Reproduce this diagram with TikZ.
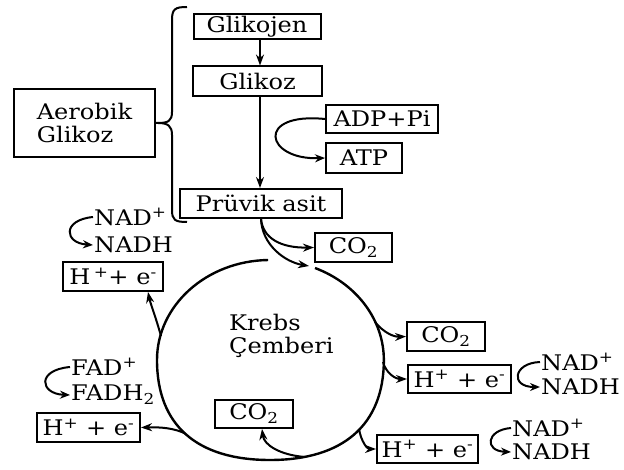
\documentclass[tikz,border=0pt]{standalone}
\usepackage{fontspec}
\setmainfont{DejaVu Serif}[FakeStretch=1.12]
\usetikzlibrary{arrows.meta}
\newcommand\dgfs{\fontsize{21.5}{23}\selectfont}
\begin{document}
\begin{tikzpicture}[x=1pt,y=-1pt,
  lw/.style={line width=2pt},
  box/.style={draw,lw,inner sep=0pt,font=\dgfs},
  lbl/.style={inner sep=1pt,anchor=west,font=\dgfs},
  arr/.style={lw,-{Stealth[length=11pt,width=8pt]}},
  curv/.style={lw,-{Stealth[length=10pt,width=8pt]}}]
\useasboundingbox[fill=white] (0,0) rectangle (624,470);
% boxes
\node[box,minimum width=127pt,minimum height=25pt] (glikojen) at (257,26.5) {Glikojen};
\node[box,minimum width=129pt,minimum height=30pt] (glikoz) at (257.5,81.5) {Glikoz};
\node[box,minimum width=162pt,minimum height=29pt] (pruvik) at (261,203.5) {Prüvik asit};
\node[box,minimum width=112pt,minimum height=28pt] (adp) at (382,119) {ADP+Pi};
\node[box,minimum width=76pt,minimum height=30pt] (atp) at (364,158) {ATP};
\node[box,minimum width=141pt,minimum height=68pt,align=left] (aerobik) at (84.5,123) {Aerobik\\Glikoz};
\node[box,minimum width=77pt,minimum height=29pt] (co2a) at (353.5,247.5) {CO\textsubscript{2}};
\node[box,minimum width=78pt,minimum height=29pt] (co2b) at (446,336.5) {CO\textsubscript{2}};
\node[box,minimum width=103pt,minimum height=28pt] (hb) at (459.5,379) {H\textsuperscript{+} + e\textsuperscript{-}};
\node[box,minimum width=101pt,minimum height=28pt] (hc) at (427.5,449) {H\textsuperscript{+} + e\textsuperscript{-}};
\node[box,minimum width=78pt,minimum height=28pt] (co2c) at (254,414) {CO\textsubscript{2}};
\node[box,minimum width=103pt,minimum height=29pt] (hd) at (88.5,427.5) {H\textsuperscript{+} + e\textsuperscript{-}};
\node[box,minimum width=100pt,minimum height=29pt] (ha) at (113,276.5) {H\,\textsuperscript{+}+ e\textsuperscript{-}};
% labels
\node[lbl] (nad1) at (93,217) {NAD\textsuperscript{+}};
\node[lbl] (nadh1) at (93,245) {NADH};
\node[lbl] (fad) at (70,367) {FAD\textsuperscript{+}};
\node[lbl] (fadh) at (70,395) {FADH\textsubscript{2}};
\node[lbl] (nad2) at (540,362) {NAD\textsuperscript{+}};
\node[lbl] (nadh2) at (540,387) {NADH};
\node[lbl] (nad3) at (511,428) {NAD\textsuperscript{+}};
\node[lbl] (nadh3) at (511,452) {NADH};
\node[lbl,align=left] (krebs) at (228,336) {Krebs\\Çemberi};
% brace
\draw[lw] (187,7) .. controls (175,7) and (172,9) .. (172,20) -- (172,112)
  .. controls (172,121) and (168,123) .. (158,123) -- (aerobik.east);
\draw[lw] (158,123) .. controls (168,123) and (172,126) .. (172,135) -- (172,210)
  .. controls (172,220) and (175,222) .. (187,222);
% main flow
\draw[arr] (glikojen.south -| 260,0) -- (glikoz.north -| 260,0);
\draw[arr] (glikoz.south -| 260,0) -- (pruvik.north -| 260,0);
\draw[curv] (adp.west) .. controls (255,112) and (265,160) .. (atp.west);
\coordinate (kin) at (309,266);
\draw[arr] (pruvik.south) .. controls (263,238) and (280,248) .. (co2a.west);
\draw[arr] (pruvik.south) .. controls (262,245) and (285,262) .. (kin);
% Krebs cycle
\draw[line width=2.4pt] (315,268) arc[start angle=-67,end angle=0,x radius=113,y radius=100]
  .. controls (383.8,425) and (343,460) .. (270,460)
  .. controls (196.5,460) and (157,425) .. (157,360)
  arc[start angle=180,end angle=269,x radius=113,y radius=100];
% branches
\draw[arr] (375,322) .. controls (384,333) and (394,337) .. (co2b.west);
\draw[arr] (383,362) .. controls (386,373) and (395,379) .. (hb.west);
\draw[arr] (359,429) .. controls (361,441) and (367,449) .. (hc.west);
\draw[arr] (305,457) .. controls (280,455) and (264,445) .. ([xshift=8pt]co2c.south);
\draw[arr] (186,434) .. controls (175,428) and (160,427) .. (hd.east);
\draw[arr] (161,336) .. controls (156,318) and (150,302) .. ([xshift=-16pt]ha.south east);
% NAD / FAD curls
\draw[curv] (nad1.west) .. controls (62,220) and (64,243) .. (nadh1.west);
\draw[curv] (fad.west) .. controls (36,370) and (40,394) .. (fadh.west);
\draw[curv] (nad2.west) .. controls (513,363) and (510,387) .. (nadh2.west);
\draw[curv] (nad3.west) .. controls (486,430) and (484,451) .. (nadh3.west);
\end{tikzpicture}
\end{document}
